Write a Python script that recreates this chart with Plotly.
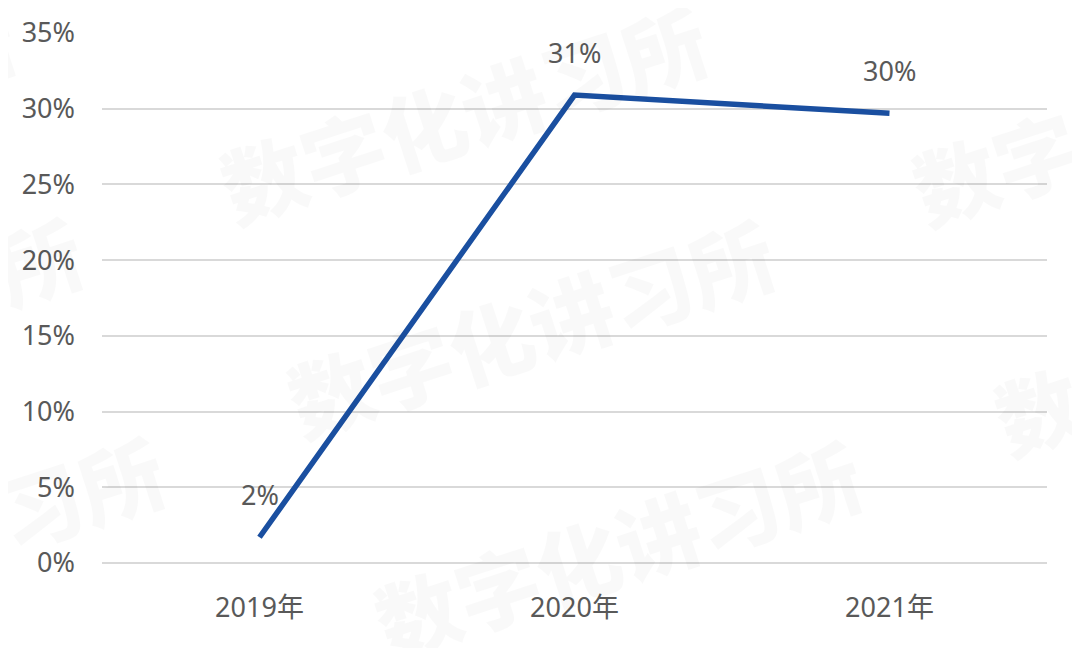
import plotly.graph_objects as go

years = ["2019年", "2020年", "2021年"]
growth = [1.7, 30.9, 29.7]
labels = ["2%", "31%", "30%"]
y_ticks = [0, 5, 10, 15, 20, 25, 30, 35]
y_tick_text = ["0%", "5%", "10%", "15%", "20%", "25%", "30%", "35%"]

# watermark tile centres (page pixels)
wm_text = "数字化讲习所"
wm_x = [463, 530, 617, 1155, 1237, -162, -80, -229]
wm_y = [112, 325, 546, 114, 343, 323, 542, 110]

W, H = 1080, 648
OFF = 8  # page body margin
ML, MR, MT, MB = 94, 41, 25, 93

FONT = "Noto Sans, Noto Sans CJK SC, sans-serif"
TXT = "#595959"

fig = go.Figure()
fig.add_trace(go.Scatter(
    x=years, y=growth, mode="lines",
    line=dict(color="#1a4fa0", width=5.5),
    hoverinfo="skip", showlegend=False,
))

annotations = []
for x, y, t in zip(years, growth, labels):
    annotations.append(dict(
        x=x, y=y, xref="x", yref="y", text=t, showarrow=False,
        yanchor="middle", xanchor="center", yshift=43,
        font=dict(family=FONT, size=27, color=TXT),
    ))

pw = W - ML - MR
ph = H - MT - MB
for cx, cy in zip(wm_x, wm_y):
    annotations.append(dict(
        x=(cx - OFF - ML) / pw, y=1 - (cy - OFF - MT) / ph,
        xref="paper", yref="paper",
        text=wm_text, showarrow=False, textangle=-18,
        xanchor="center", yanchor="middle",
        font=dict(family="Noto Sans CJK SC", size=84, color="rgba(0,0,0,0.025)", weight=900),
    ))

fig.update_layout(
    width=W, height=H,
    margin=dict(l=ML, r=MR, t=MT, b=MB, autoexpand=False),
    paper_bgcolor="white", plot_bgcolor="white",
    font=dict(family=FONT, size=27, color=TXT),
    annotations=annotations,
    xaxis=dict(
        type="category", range=[-0.5, 2.5], showgrid=False, zeroline=False,
        showline=False, ticks="", ticklabelstandoff=26,
        tickfont=dict(family=FONT, size=27, color=TXT),
    ),
    yaxis=dict(
        range=[0, 35], tickvals=y_ticks, ticktext=y_tick_text,
        showgrid=True, gridcolor="#d9d9d9", gridwidth=1.5,
        zeroline=True, zerolinecolor="#d9d9d9", zerolinewidth=1.5,
        showline=False, ticks="", ticklabelstandoff=26,
        tickfont=dict(family=FONT, size=27, color=TXT),
    ),
)

fig.write_html("out.html")
